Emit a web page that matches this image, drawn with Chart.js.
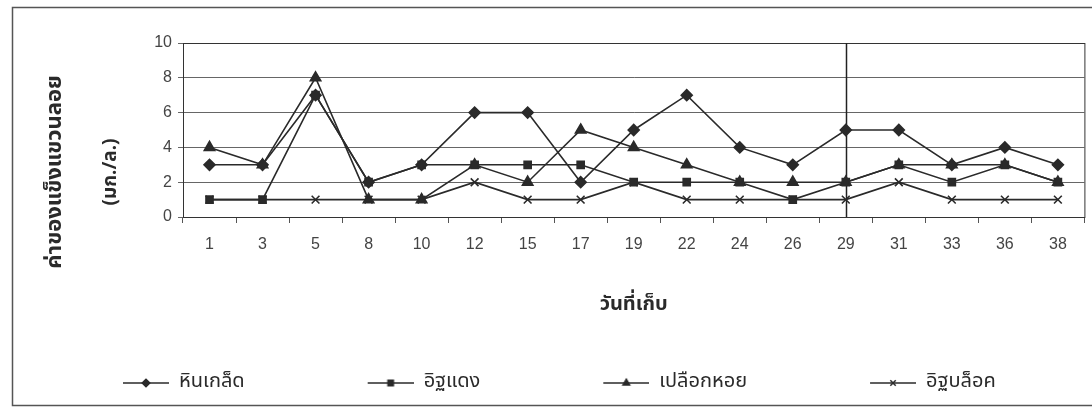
<!DOCTYPE html>
<html>
<head>
<meta charset="utf-8">
<script src="https://cdn.jsdelivr.net/npm/chart.js@4.4.1/dist/chart.umd.min.js"></script>
<style>
  html, body { margin: 0; padding: 0; background: #fff; }
  #wrap { width: 1092px; height: 410px; }
</style>
</head>
<body>
<div id="wrap"><canvas id="lineChart" width="1092" height="410"></canvas></div>
<script>
// วันที่เก็บ
const days = ["1", "3", "5", "8", "10", "12", "15", "17", "19", "22", "24", "26", "29", "31", "33", "36", "38"];

// ค่าของแข็งแขวนลอย (มก./ล.)
const hinKled   = [3, 3, 7, 2, 3, 6, 6, 2, 5, 7, 4, 3, 5, 5, 3, 4, 3];
const itDaeng   = [1, 1, 7, 2, 3, 3, 3, 3, 2, 2, 2, 1, 2, 3, 2, 3, 2];
const plueakHoi = [4, 3, 8, 1, 1, 3, 2, 5, 4, 3, 2, 2, 2, 3, 3, 3, 2];
const itBlock   = [1, 1, 1, 1, 1, 2, 1, 1, 2, 1, 1, 1, 1, 2, 1, 1, 1];

const seriesNames = ["หินเกล็ด", "อิฐแดง", "เปลือกหอย", "อิฐบล็อค"];
const yTicks = [0, 2, 4, 6, 8, 10];
const yTitle = ["ค่าของแข็งแขวนลอย", "(มก./ล.)"];
const xTitle = "วันที่เก็บ";
const markDay = "29";

const thaiFont = "'Noto Sans Thai', 'Noto Sans', 'DejaVu Sans', sans-serif";
const numFont = "'Liberation Sans', Arial, sans-serif";
const ink = '#2a2a2a';

// legend picture: empty gap on the left, then a line with the marker in the middle
const iconGap = 113;
const iconLen = 46;
function legendIcon(style) {
  const c = document.createElement('canvas');
  c.width = iconGap + iconLen; c.height = 14;
  const g = c.getContext('2d');
  g.strokeStyle = ink; g.lineWidth = 1.5;
  g.beginPath(); g.moveTo(iconGap, 7); g.lineTo(iconGap + iconLen, 7); g.stroke();
  g.fillStyle = ink;
  Chart.helpers.drawPoint(g, {pointStyle: style, radius: 3.8, borderWidth: 1.3, rotation: 0}, iconGap + iconLen / 2, 7);
  return c;
}

const styles = ['rectRot', 'rect', 'triangle', 'crossRot'];
const radii = [5.5, 5, 6, 5.5];
const values = [hinKled, itDaeng, plueakHoi, itBlock];

const datasets = seriesNames.map((name, i) => ({
  label: name,
  data: values[i],
  borderColor: ink,
  backgroundColor: ink,
  borderWidth: 1.6,
  pointStyle: styles[i],
  pointRadius: radii[i],
  pointBackgroundColor: ink,
  pointBorderColor: ink,
  pointBorderWidth: 1.6,
  tension: 0
}));

const frame = {
  id: 'frame',
  beforeDraw(chart) {
    const ctx = chart.ctx;
    ctx.save();
    ctx.fillStyle = '#fff';
    ctx.fillRect(0, 0, chart.width, chart.height);
    ctx.strokeStyle = '#555';
    ctx.lineWidth = 1.5;
    ctx.strokeRect(12.5, 7.5, 1090, 398);
    ctx.restore();
  },
  beforeDatasetsDraw(chart) {
    const {ctx, chartArea: a, scales} = chart;
    ctx.save();
    ctx.strokeStyle = '#333';
    ctx.lineWidth = 1;
    ctx.strokeRect(a.left + 0.5, a.top + 0.5, a.width, a.height);
    const x = Math.round(scales.x.getPixelForValue(days.indexOf(markDay))) + 0.5;
    ctx.lineWidth = 1.5;
    ctx.strokeStyle = '#222';
    ctx.beginPath(); ctx.moveTo(x, a.top); ctx.lineTo(x, a.bottom); ctx.stroke();
    ctx.restore();
  },
  afterDraw(chart) {
    // y axis title, two rotated lines
    const ctx = chart.ctx;
    ctx.save();
    ctx.fillStyle = ink;
    ctx.textAlign = 'center';
    ctx.textBaseline = 'middle';
    ctx.translate(57, 172);
    ctx.rotate(-Math.PI / 2);
    ctx.font = 'bold 22px ' + thaiFont;
    ctx.fillText(yTitle[0], 0, 0);
    ctx.font = 'bold 19px ' + thaiFont;
    ctx.fillText(yTitle[1], 0, 55);
    ctx.restore();
  }
};

new Chart(document.getElementById('lineChart'), {
  type: 'line',
  data: { labels: days, datasets: datasets },
  plugins: [frame],
  options: {
    responsive: false,
    animation: false,
    layout: { padding: { left: 0, right: 7, top: 43, bottom: 7 } },
    plugins: {
      tooltip: { enabled: false },
      legend: {
        position: 'bottom',
        align: 'start',
        labels: {
          color: ink,
          font: { family: thaiFont, size: 20 },
          usePointStyle: true,
          pointStyleWidth: iconGap + iconLen,
          padding: 10,
          generateLabels(chart) {
            return chart.data.datasets.map((ds, i) => ({
              text: ds.label,
              pointStyle: legendIcon(styles[i]),
              fillStyle: ink,
              strokeStyle: ink,
              lineWidth: 0,
              fontColor: ink,
              datasetIndex: i,
              hidden: false
            }));
          }
        }
      }
    },
    scales: {
      x: {
        afterFit(s) { s.height = 146; },
        offset: true,
        grid: { offset: true, drawOnChartArea: false, tickLength: 6, color: '#555' },
        border: { color: '#333' },
        ticks: { color: '#444', padding: 12, font: { family: numFont, size: 16 }, maxRotation: 0 },
        title: {
          display: true, text: xTitle, color: ink,
          font: { family: thaiFont, size: 20, weight: 'bold' },
          padding: { top: 0, bottom: 45 }
        }
      },
      y: {
        min: 0, max: 10,
        afterFit(s) { s.width = 183; },
        afterBuildTicks(s) { s.ticks = yTicks.map(v => ({ value: v })); },
        grid: { color: '#666', tickLength: 5 },
        border: { color: '#333' },
        ticks: { color: '#444', padding: 6, font: { family: numFont, size: 16 } }
      }
    }
  }
});
</script>
</body>
</html>
